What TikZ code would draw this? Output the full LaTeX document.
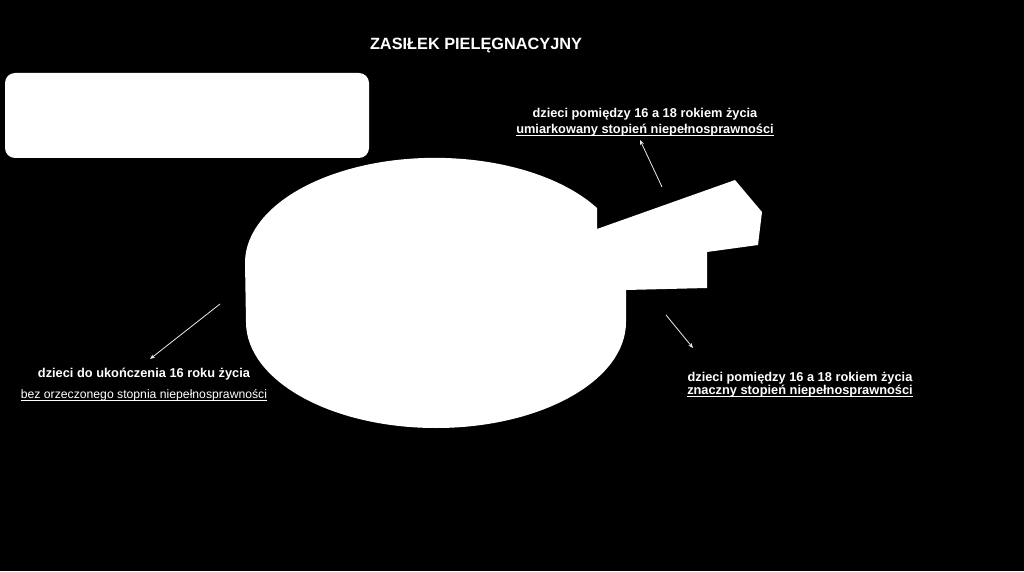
\documentclass[tikz,border=0pt]{standalone}
\usepackage{fontspec}
\setmainfont{Liberation Sans}
\usepackage{tikz}
\usetikzlibrary{arrows.meta}
\newlength\ulwidth
\newcommand\ulined[1]{\settowidth{\ulwidth}{#1}\rlap{\rule[-2pt]{\ulwidth}{0.6pt}}#1}

\begin{document}
\begin{tikzpicture}[x=1pt,y=1pt,>={Stealth[length=5pt,width=4pt]}]
    \tikzstyle{pointer}=[->,draw=white!92!black,line width=0.8pt]
    \tikzstyle{slice label}=[text=white,align=center,inner sep=0pt,font=\fontsize{12.8}{15}\selectfont]
    \tikzstyle{heading}=[text=white,font=\fontsize{16.3}{18}\selectfont\bfseries]
    \tikzstyle{panel}=[fill=white,rounded corners=10pt,inner sep=0pt]

    % Draw the background
    \fill[black] (0,0) rectangle (1024,571);
    \useasboundingbox (0,0) rectangle (1024,571);

    % Title and the empty panel
    \node[heading] (title) at (476,525) {ZASIŁEK PIELĘGNACYJNY};
    \node[panel, minimum width=364pt, minimum height=85pt] (panel) at (187,455.5) {};

    % Draw the pie with its pulled out slice
    \fill[white] (597,363) arc[start angle=31.5,end angle=180,x radius=190pt,y radius=105pt]
        -- (246,249) arc[start angle=180,end angle=360,x radius=190pt,y radius=106pt]
        -- (626,281) -- (707,283) -- (707,319) -- (758,326) -- (762,359)
        -- (735,391) -- (597,342) -- cycle;

    % Annotate the slices
    \node[slice label] (L-1) at (645,449) {\textbf{dzieci pomiędzy 16 a 18 rokiem życia}\\[1pt]\textbf{\ulined{umiarkowany stopień niepełnosprawności}}};
    \node[slice label] (L-2) at (800,186.5) {\textbf{dzieci pomiędzy 16 a 18 rokiem życia}\\[-2pt]\textbf{\ulined{znaczny stopień niepełnosprawności}}};
    \node[slice label] (L-3) at (144,186) {\textbf{dzieci do ukończenia 16 roku życia}\\[6pt]{\fontsize{12.2}{15}\selectfont\ulined{bez orzeczonego stopnia niepełnosprawności}}};

    % Point from the pie to the labels
    \coordinate (P-1) at (662,384); \coordinate (Q-1) at (640,431);
    \coordinate (P-2) at (666,256); \coordinate (Q-2) at (693,223);
    \coordinate (P-3) at (220,267); \coordinate (Q-3) at (150,212);
    \foreach \s/\e in {P-1/Q-1,P-2/Q-2,P-3/Q-3}
        \draw[pointer] (\s) -- (\e);
\end{tikzpicture}
\end{document}
